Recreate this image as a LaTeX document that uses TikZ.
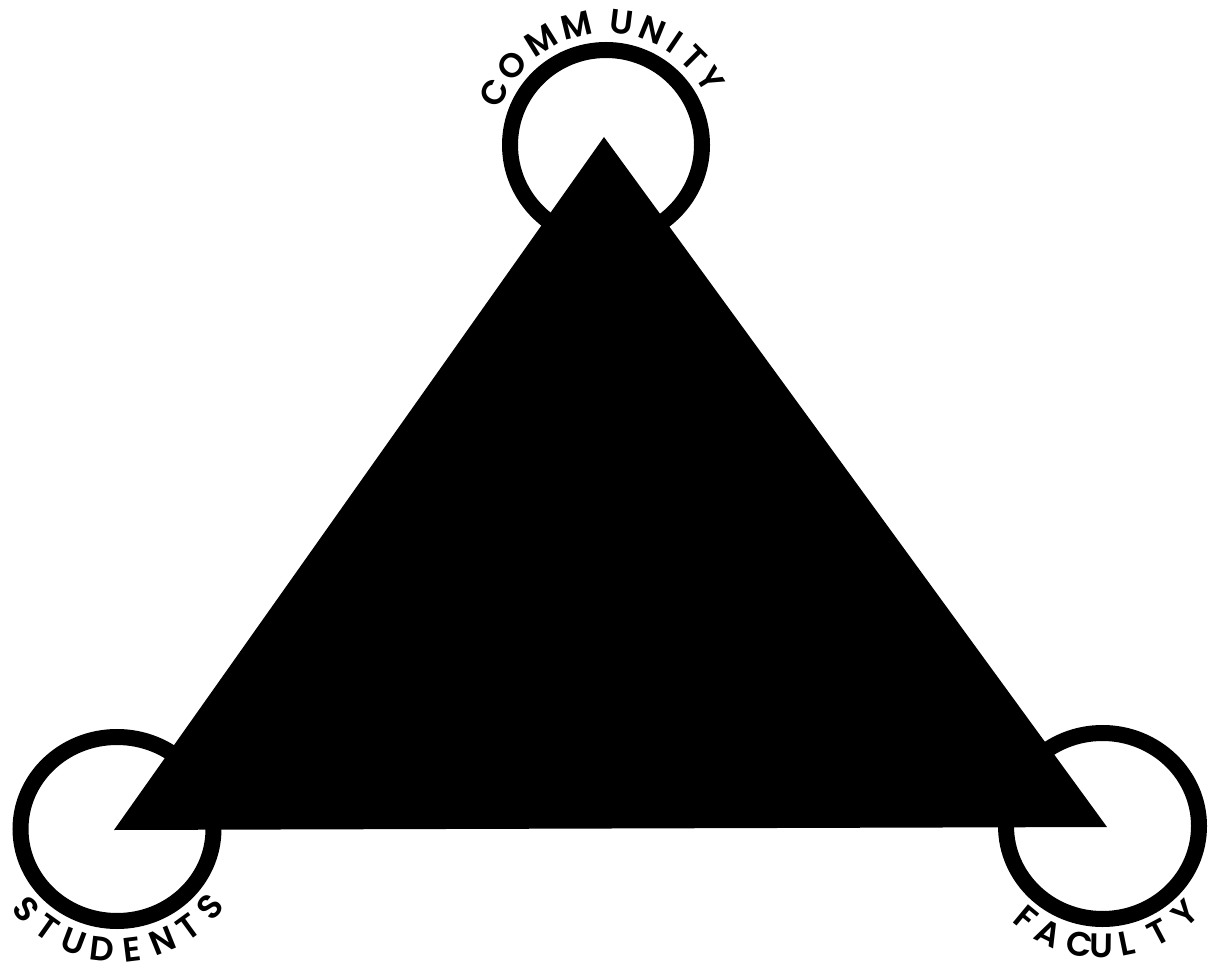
\documentclass[tikz,border=0pt]{standalone}
\usepackage{fontspec}
\newfontfamily\lab{Poppins}[UprightFont={* SemiBold}]
\begin{document}
\begin{tikzpicture}[x=1pt,y=1pt,
  ring/.style={draw=black,line width=16pt},
  letter/.style={font=\lab\fontsize{34}{34}\selectfont, inner sep=0pt, anchor=center}]
\useasboundingbox[fill=white] (0,0) rectangle (1217,967);
% circle centres
\coordinate (cT) at (606,822);
\coordinate (cL) at (117,138);
\coordinate (cR) at (1102.5,141);
% triangle vertices
\coordinate (apex) at (604,830);
\coordinate (lv) at (114,137);
\coordinate (rv) at (1107,140);
% rings
\draw[ring] (cT) ellipse[x radius=96, y radius=95];
\draw[ring] (cL) ellipse[x radius=96.5, y radius=92];
\draw[ring] (cR) ellipse[x radius=96.5, y radius=93];
% triangle
\fill[black] (apex) -- (lv) -- (rv) -- cycle;
% labels
\foreach \l/\a [count=\i] in {C/154.9, O/139.9, M/121.9, M/103.6, U/82.9, N/68, I/55.9, T/45, Y/32.1}
  \node[letter, rotate=\a-90] (com\i) at ([shift={(\a:123.5)}]cT) {\l};
\foreach \l/\a [count=\i] in {S/221.5, T/234.6, U/249.3, D/263, E/277, N/292, T/306, S/320}
  \node[letter, rotate=\a+90] (stu\i) at ([shift={(\a:121)}]cL) {\l};
\foreach \l/\a [count=\i] in {F/230.4, A/243.6, C/259, U/269.3, L/281.6, T/297.9, Y/313.5}
  \node[letter, rotate=\a+90] (fac\i) at ([shift={(\a:120)}]cR) {\l};
\end{tikzpicture}
\end{document}
